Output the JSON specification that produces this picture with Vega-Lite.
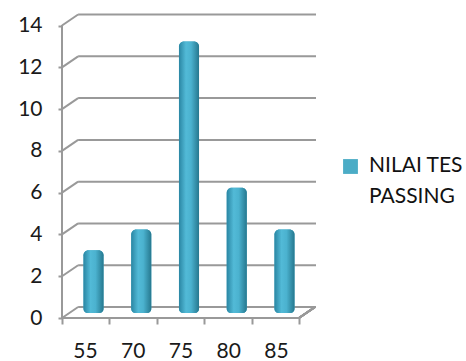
{
  "$schema": "https://vega.github.io/schema/vega-lite/v6.json",
  "width": 254,
  "height": 305,
  "padding": {"left": 62, "top": 13, "right": 150, "bottom": 43},
  "autosize": {"type": "none"},
  "background": "white",
  "config": {
    "view": {"stroke": null},
    "font": "Lato",
    "axis": {"labelFont": "Lato", "labelFontSize": 21, "labelColor": "#1a1a1a", "grid": false}
  },
  "datasets": {
    "bars": [
      {"nilai": "55", "jumlah": 3, "seri": "NILAI TES PASSING"},
      {"nilai": "70", "jumlah": 4, "seri": "NILAI TES PASSING"},
      {"nilai": "75", "jumlah": 13, "seri": "NILAI TES PASSING"},
      {"nilai": "80", "jumlah": 6, "seri": "NILAI TES PASSING"},
      {"nilai": "85", "jumlah": 4, "seri": "NILAI TES PASSING"}
    ],
    "grid": [{"v": 0}, {"v": 2}, {"v": 4}, {"v": 6}, {"v": 8}, {"v": 10}, {"v": 12}, {"v": 14}]
  },
  "resolve": {"scale": {"x": "independent"}},
  "layer": [
    {
      "data": {"name": "grid"},
      "layer": [
        {
          "mark": {"type": "rule", "color": "#999999", "strokeWidth": 2, "y2Offset": -11},
          "encoding": {
            "x": {"datum": 0, "type": "quantitative", "scale": {"domain": [0, 5.36], "nice": false, "zero": false},
              "axis": {"orient": "bottom", "values": [0, 1, 2, 3, 4, 5], "labels": false, "domain": false, "ticks": true, "tickSize": 6, "tickColor": "#999999", "tickWidth": 2, "title": null}},
            "x2": {"datum": 0.34},
            "y": {"field": "v", "type": "quantitative", "scale": {"domain": [0, 14.6], "nice": false},
              "axis": {"values": [0, 2, 4, 6, 8, 10, 12, 14], "domain": false, "tickSize": 4, "tickColor": "#999999", "tickWidth": 2, "labelPadding": 16, "title": null}},
            "y2": {"field": "v"}
          }
        },
        {
          "mark": {"type": "rule", "color": "#999999", "strokeWidth": 2, "yOffset": -11},
          "encoding": {
            "x": {"datum": 0.34, "type": "quantitative"},
            "x2": {"datum": 5.36},
            "y": {"field": "v", "type": "quantitative"}
          }
        },
        {
          "mark": {"type": "rule", "color": "#999999", "strokeWidth": 2},
          "encoding": {
            "x": {"datum": 0, "type": "quantitative"},
            "y": {"datum": 0, "type": "quantitative"},
            "y2": {"datum": 14}
          }
        },
        {
          "mark": {"type": "rule", "color": "#999999", "strokeWidth": 2},
          "encoding": {
            "x": {"datum": 0, "type": "quantitative"},
            "x2": {"datum": 5},
            "y": {"datum": 0, "type": "quantitative"}
          }
        },
        {
          "mark": {"type": "rule", "color": "#999999", "strokeWidth": 2, "y2Offset": -11},
          "encoding": {
            "x": {"datum": 5, "type": "quantitative"},
            "x2": {"datum": 5.34},
            "y": {"datum": 0, "type": "quantitative"},
            "y2": {"datum": 0}
          }
        }
      ]
    },
    {
      "data": {"name": "bars"},
      "encoding": {
        "x": {"field": "nilai", "type": "nominal", "sort": null,
          "scale": {"paddingInner": 0.58, "paddingOuter": 0.45, "align": 0.5},
          "axis": {"orient": "bottom", "domain": false, "ticks": false, "tickSize": 0, "labelPadding": 22, "labelOffset": -8, "labelAngle": 0, "title": null}},
        "y": {"field": "jumlah", "type": "quantitative"},
        "y2": {"datum": 0}
      },
      "layer": [
        {
          "mark": {"type": "bar", "yOffset": -5, "y2Offset": -5, "cornerRadiusTopLeft": 5, "cornerRadiusTopRight": 5, "cornerRadiusBottomLeft": 4, "cornerRadiusBottomRight": 4},
          "encoding": {
            "color": {"field": "seri", "type": "nominal", "scale": {"range": ["#4bacc6"]},
              "legend": {"title": null, "orient": "none", "legendX": 278, "legendY": 143, "symbolType": "square", "symbolSize": 220, "symbolStrokeWidth": 0, "labelFont": "Lato", "labelFontSize": 21, "labelColor": "#111111", "labelLimit": 200, "labelExpr": "['NILAI TES', 'PASSING']", "labelOffset": 8,
                "encode": {"labels": {"update": {"lineHeight": {"value": 31}, "baseline": {"value": "top"}, "dy": {"value": -12}}}}}}
          }
        },
        {
          "mark": {"type": "bar", "yOffset": -5, "y2Offset": -5, "cornerRadiusTopLeft": 5, "cornerRadiusTopRight": 5, "cornerRadiusBottomLeft": 4, "cornerRadiusBottomRight": 4,
            "fill": {"gradient": "linear", "x1": 0, "x2": 1, "y1": 0, "y2": 0,
              "stops": [{"offset": 0, "color": "#2a86a3"}, {"offset": 0.35, "color": "#52bad7"}, {"offset": 0.6, "color": "#4bb2cf"}, {"offset": 1, "color": "#26788f"}]}}
        }
      ]
    }
  ]
}
